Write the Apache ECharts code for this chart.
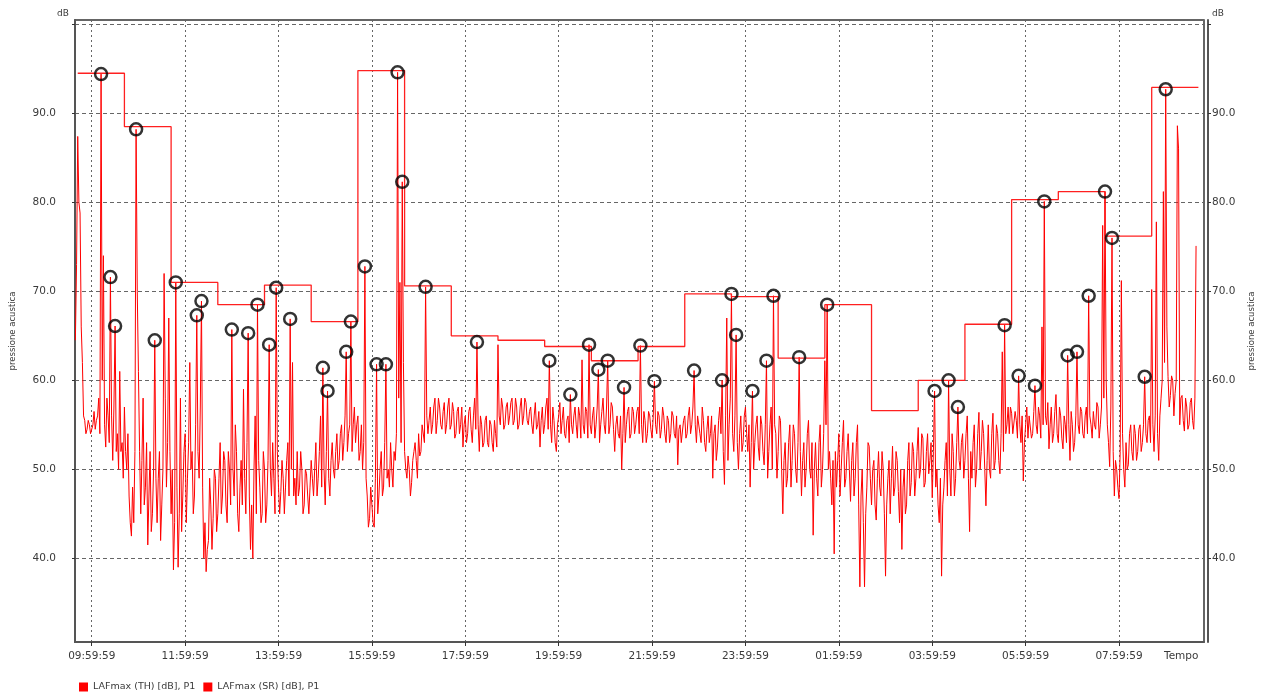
<!DOCTYPE html>
<html>
<head>
<meta charset="utf-8">
<script src="https://cdn.jsdelivr.net/npm/echarts@6/dist/echarts.min.js"></script>
<style>
html,body{margin:0;padding:0;background:#fff;}
#chart{width:1266px;height:696px;}
</style>
</head>
<body>
<div id="chart"></div>
<script>
// ---- DATA ----
// time axis: minutes relative to 09:59:59
const xTickLabels = ['09:59:59','11:59:59','13:59:59','15:59:59','17:59:59','19:59:59','21:59:59','23:59:59','01:59:59','03:59:59','05:59:59','07:59:59'];
const yTickLabels = ['40.0','50.0','60.0','70.0','80.0','90.0'];

// LAFmax (SR): main samples every 3 minutes (first at -21 min) ...
const srStartMin = -21;
const srStepMin = 3;
const srValues = [
64.5, 87.4, 78.8, 62, 55.5, 54.5, 55, 54.2, 56.5, 55.5,
58, 94.4, 74, 52.5, 56, 71.6, 51, 66.1, 54, 61,
53, 57, 50, 47, 42.5, 44, 88.2, 61, 45, 58,
48, 41.5, 52, 45, 64.5, 44, 52, 46, 72, 48,
67, 45, 38.7, 71.0, 39, 58, 47, 54, 49, 62,
52, 47, 67.3, 49, 68.9, 40, 38.5, 42, 46, 44.5,
49, 45, 53, 47, 51, 44, 50, 65.7, 47, 52,
43, 51, 59, 45, 65.3, 41, 40, 56, 68.5, 48,
45, 50, 46, 64, 47, 49, 70.4, 48, 47.5, 49,
48, 53, 66.9, 62, 49, 52, 48, 50, 46, 49.5,
45, 51, 47, 53, 49, 56, 61.4, 46, 58.8, 47,
53, 49, 54, 51, 55, 53, 63.2, 54, 66.6, 55,
53, 56, 52, 50, 72.8, 47, 44.5, 46, 43.5, 61.8,
47, 52, 48, 61.8, 50, 53, 48, 51, 94.6, 71,
82.3, 52, 49, 50, 48.5, 52, 51, 54, 52, 55,
70.5, 54, 57, 55, 58, 55.5, 57, 54.5, 57.5, 55,
58, 55, 56.5, 54, 57, 55, 52.5, 56, 54, 57,
53, 58, 64.3, 52, 55, 53, 56, 52.5, 55, 52,
54, 64, 55, 57, 55, 57.5, 56, 58, 55.5, 57,
55, 58, 56, 57.5, 55, 57, 54, 57.5, 55, 52.5,
57, 55, 58, 62.2, 53, 55.5, 52, 56, 54, 57,
53.5, 56, 58.4, 54, 57, 53.5, 56, 62.3, 54, 56.5,
64.0, 54, 57, 55, 61.2, 55, 58, 54, 62.2, 55,
57, 52, 56, 53.5, 50, 59.2, 55, 57, 54, 56.5,
55, 57, 63.9, 53, 55.5, 54, 56, 53.5, 59.9, 54,
56, 54.5, 56, 53, 55.5, 54, 56, 53.5, 50.5, 55,
53, 56, 54, 57, 55, 61.1, 53, 56, 53, 55.5,
52, 56, 54, 49, 55, 52.5, 57, 60.0, 48.3, 67,
55, 69.7, 52, 65.1, 50, 56, 53, 57, 52, 48,
58.8, 53, 56, 51, 55, 50.5, 62.2, 52, 57, 69.5,
54, 52, 55.5, 45, 53, 49, 55, 51, 54, 48.5,
62.6, 47, 53, 50, 55.5, 49, 42.6, 53, 47, 55,
50, 62.2, 68.5, 52, 46, 40.5, 48, 54, 50, 55.5,
49, 54, 46.4, 53, 49, 55, 36.8, 50, 36.8, 48,
52.6, 46, 51, 44.3, 52, 47, 50, 38, 49, 45,
52.6, 48, 51, 44, 41, 50, 46, 53, 48.5, 52,
49, 54.7, 50, 53.5, 48.5, 54, 51, 46.8, 58.8, 50,
44, 38, 48, 53, 60.0, 47, 52, 49, 57.0, 50,
54, 51, 56, 43, 49, 55, 50, 56.4, 52, 54,
45.9, 55, 49, 56.3, 51, 54, 49.5, 63.2, 66.2, 55,
54, 56.3, 53.9, 55.5, 60.5, 53, 48.7, 55, 53.5, 56,
54, 59.4, 54, 56, 66, 80.1, 55, 52.3, 57, 54,
58.4, 53, 56, 52.3, 55, 62.8, 51, 55, 53, 63.2,
54, 56.5, 53.5, 57, 69.5, 55, 56.5, 54.5, 57, 55,
77.4, 81.2, 55, 50.3, 76.0, 47, 50, 46.7, 71.2, 50,
53, 50.5, 55, 51, 54, 52, 55, 53, 60.4, 53,
56, 70.2, 52, 77.8, 51, 58, 81.2, 92.7, 60.4, 58.3,
60, 58.5, 88.6, 55, 58.3, 54.3, 57, 55, 58, 54.5,
75.1
];
// ... and the in-between samples (1.5 min after each main sample)
const srMidValues = [
73, 80, 66, 56, 54, 55.5, 54, 55, 54.5, 56,
54, 60, 55, 58, 53, 56, 57, 52, 50, 52,
49, 52, 54, 44, 48, 52, 70, 52, 51, 46,
53, 47, 43, 50, 49, 49, 42, 50, 58, 53,
52, 50, 44, 48, 45, 43, 52, 44, 53, 50,
45, 55, 52, 57, 48, 44, 41, 49, 41, 50,
43, 49, 45, 52, 46, 52, 46, 50, 55, 45,
48, 46, 49, 53, 47, 46, 50, 45, 51, 44,
52, 44, 51, 50, 53, 45, 52, 45, 51, 45,
51, 47, 50, 47, 46, 47, 52, 45, 50, 47,
48, 49, 50, 47, 52, 48, 50, 52, 49, 51,
50, 52, 50, 54, 51, 56, 52, 55, 52, 57,
55, 51, 55, 53, 49, 43.5, 48, 44, 49, 45,
50, 47, 53, 49, 48, 50, 52, 54, 58, 53,
62, 50, 51.5, 47, 51, 53, 49, 51.5, 55, 53,
56, 55.5, 54, 57, 54, 58, 55, 56.5, 54, 57,
54.5, 57.5, 53.5, 56.5, 54, 57, 55, 53, 56.5, 54.5,
56, 54.5, 55, 56, 52.5, 55.5, 53, 55.5, 53, 55.5,
52.5, 56, 58, 54.5, 57, 55, 57.5, 55, 58, 54.5,
57, 55, 58, 55.5, 56.5, 55, 56, 54.5, 56.5, 55.5,
54, 57, 54.5, 55, 57, 53, 55, 57.5, 55.5, 54,
55.5, 53, 55, 56, 55, 57, 53.5, 55, 57, 53.5,
55, 56, 53.5, 57, 53, 56.5, 55, 57, 54, 57.5,
54.5, 55, 54, 56, 54, 53, 56.5, 53.5, 57, 54,
56.5, 54, 55, 56.5, 53, 56.5, 54.5, 56, 55, 56.5,
53.5, 57, 54, 56, 53, 56.5, 54, 56, 54.5, 53,
55.5, 53.5, 56, 54, 57, 55, 56, 54, 57, 53,
54.5, 53, 56, 54, 51, 55.5, 54, 52, 56, 51,
58, 54, 56, 53, 54, 52, 56, 54, 55, 53,
50, 55, 52.5, 56, 52, 55, 49, 55, 50, 55,
49, 56, 50, 51, 48, 53, 48, 55, 50, 53,
52, 51, 48, 54, 50, 53, 50, 49, 53, 48,
54, 55, 50, 49, 51, 52, 51, 47, 53, 48,
52, 50, 51, 47, 53, 46, 47, 44, 45, 53,
49, 50, 46, 49, 48, 52, 45, 46, 51, 49,
47, 52, 47.5, 50, 48, 45, 51, 47, 53, 47,
52, 49, 54, 48, 52, 49.5, 53, 52, 48, 46,
49, 46, 51, 47, 50, 54, 47, 53, 51, 53,
49, 54, 49, 52, 53, 48, 54, 50, 55.5, 50,
51, 50, 54, 50, 55, 51, 54, 52, 54, 57,
57, 54, 56.5, 53.5, 55, 56, 53, 57, 56, 53.5,
56.5, 55, 57, 53.5, 55, 56, 57.5, 55, 53, 56.5,
54, 57, 53.5, 56, 53, 55, 56.5, 52, 56, 55,
57, 54, 56, 54, 56, 53.5, 55, 57.5, 53.5, 57,
58, 60, 53, 57, 52, 51, 48, 52, 54, 48,
50, 54, 52, 55, 51, 54.5, 52, 55, 54, 55.5,
53, 55, 56, 54, 56, 60, 62, 66, 57, 60.5,
56, 60, 86, 58, 55.5, 58, 54.5, 57.5, 55.5, 58
];

// LAFmax (TH): hourly levels, first hour starts at -18 min (09:42)
const thStartMin = -18;
const thStepMin = 60;
const thLevels = [94.5, 88.5, 71.0, 68.5, 70.7, 66.6, 94.8, 70.6, 65.0, 64.5, 63.8, 62.2,
                  63.8, 69.7, 69.4, 62.5, 68.5, 56.6, 60.0, 66.3, 80.3, 81.2, 76.2, 92.9];

// marked events (black circles): time in minutes relative to 09:59:59, level dB
const eventTimes = [12,24,30,57,81,108,135,141,180,201,213,228,237,255,297,303,327,333,351,366,
                    378,393,399,429,495,588,615,639,651,663,684,705,723,774,810,822,828,849,867,876,
                    909,945,1083,1101,1113,1173,1191,1212,1224,1254,1266,1281,1302,1311,1353,1380];
const eventLevels = [94.4,71.6,66.1,88.2,64.5,71.0,67.3,68.9,65.7,65.3,68.5,64.0,70.4,66.9,61.4,58.8,63.2,66.6,72.8,61.8,
                     61.8,94.6,82.3,70.5,64.3,62.2,58.4,64.0,61.2,62.2,59.2,63.9,59.9,61.1,60.0,69.7,65.1,58.8,62.2,69.5,
                     62.6,68.5,58.8,60.0,57.0,66.2,60.5,59.4,80.1,62.8,63.2,69.5,81.2,76.0,60.4,92.7];

const seriesNames = ['LAFmax (TH) [dB], P1', 'LAFmax (SR) [dB], P1'];

// ---- BUILD ----
const srData = [];
srValues.forEach((v, i) => {
  const t = srStartMin + srStepMin * i;
  srData.push([t, v]);
  if (i < srMidValues.length) srData.push([t + srStepMin / 2, srMidValues[i]]);
});
const thData = thLevels.map((v, k) => [thStartMin + thStepMin * k, v]);
thData.push([thStartMin + thStepMin * thLevels.length, thLevels[thLevels.length - 1]]);
const evData = eventTimes.map((t, i) => [t, eventLevels[i]]);

const FONT = 'DejaVu Sans';
const xFmt = v => {
  const k = Math.round(v / 120);
  if (Math.abs(v - k * 120) < 1e-6 && k >= 0 && k < xTickLabels.length) return xTickLabels[k];
  return '';
};
const yFmt = v => {
  const s = (Math.round(v * 10) / 10).toFixed(1);
  return yTickLabels.indexOf(s) >= 0 && Math.abs(v - Math.round(v)) < 1e-6 ? s : '';
};

const chart = echarts.init(document.getElementById('chart'), null, {renderer: 'canvas'});
const yBase = {
  type: 'value', min: 30.6, max: 100.48, minInterval: 10, maxInterval: 10, splitNumber: 7,
  axisLine: {show: true, onZero: false, lineStyle: {color: '#555', width: 2}},
  axisTick: {show: true, length: 3, lineStyle: {color: '#333'}},
  axisLabel: {formatter: yFmt, color: '#3a3a3a', fontSize: 10.5, fontFamily: FONT, showMinLabel: false, showMaxLabel: false},
  name: 'pressione acustica', nameLocation: 'middle', nameRotate: 90,
  nameTextStyle: {color: '#3a3a3a', fontSize: 8.5, fontFamily: FONT}
};
chart.setOption({
  animation: false,
  backgroundColor: '#fff',
  grid: {left: 75, right: 62, top: 20, bottom: 54, show: true, borderColor: '#333', borderWidth: 1.5,
         containLabel: false, outerBoundsMode: 'none'},
  legend: {
    left: 74, top: 677, itemWidth: 9, itemHeight: 9, itemGap: 8, icon: 'rect',
    data: seriesNames,
    textStyle: {color: '#3a3a3a', fontSize: 9.5, fontFamily: FONT}
  },
  xAxis: {
    type: 'value', min: -21.5, max: 1429.2, minInterval: 120, maxInterval: 120, splitNumber: 12,
    axisLine: {show: true, onZero: false, lineStyle: {color: '#555', width: 2}},
    axisTick: {show: true, length: 4, lineStyle: {color: '#333'}},
    axisLabel: {formatter: xFmt, color: '#3a3a3a', fontSize: 10.5, fontFamily: FONT, margin: 9, showMinLabel: false, showMaxLabel: false},
    splitLine: {show: true, lineStyle: {color: '#666', type: [2, 3], width: 1}}
  },
  yAxis: [
    Object.assign({}, yBase, {
      position: 'left', nameGap: 58,
      axisLabel: Object.assign({}, yBase.axisLabel, {margin: 19}),
      splitLine: {show: true, lineStyle: {color: '#666', type: [4, 3], width: 1}}
    }),
    Object.assign({}, yBase, {
      position: 'right', offset: 4, nameGap: 39,
      axisLabel: Object.assign({}, yBase.axisLabel, {margin: 4}),
      splitLine: {show: false}
    })
  ],
  graphic: [
    {type: 'text', left: 57, top: 9, style: {text: 'dB', fill: '#3a3a3a', fontSize: 9, fontFamily: FONT}},
    {type: 'text', left: 1212, top: 9, style: {text: 'dB', fill: '#3a3a3a', fontSize: 9, fontFamily: FONT}},
    {type: 'text', left: 1164, top: 651, style: {text: 'Tempo', fill: '#3a3a3a', fontSize: 10.5, fontFamily: FONT}}
  ],
  series: [
    {
      name: seriesNames[1], type: 'line', data: srData, showSymbol: false, symbol: 'none',
      lineStyle: {color: '#ff0000', width: 1}, itemStyle: {color: '#ff0000'}, z: 2
    },
    {
      name: seriesNames[0], type: 'line', step: 'end', data: thData, showSymbol: false, symbol: 'none',
      lineStyle: {color: '#ff2020', width: 1.3}, itemStyle: {color: '#ff0000'}, z: 3
    },
    {
      name: 'eventi', type: 'scatter', data: evData, symbol: 'circle', symbolSize: 12,
      itemStyle: {color: 'rgba(255,255,255,0)', borderColor: '#000', borderWidth: 2.5}, z: 5
    }
  ]
});
</script>
</body>
</html>
